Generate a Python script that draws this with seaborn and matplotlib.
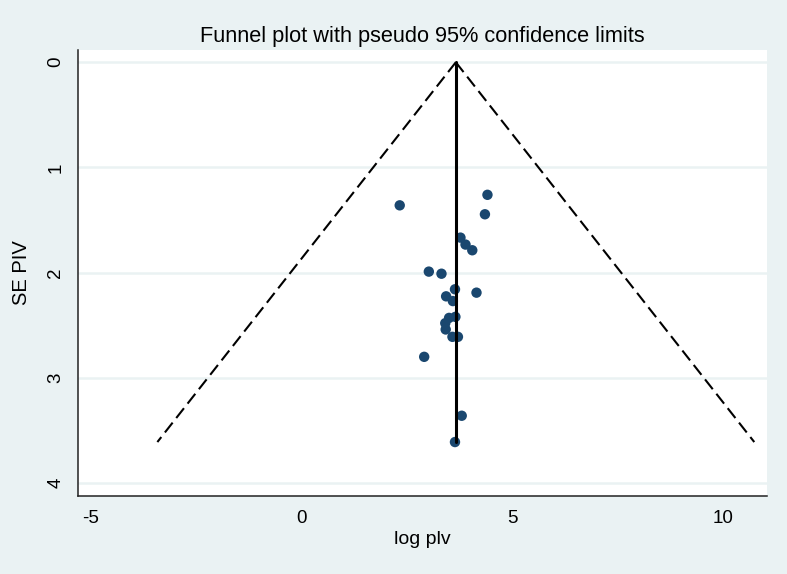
import numpy as np
import pandas as pd
import matplotlib
matplotlib.use("Agg")
import matplotlib.pyplot as plt
import seaborn as sns

# Study values
log_plv = [2.33, 4.41, 4.35, 3.77, 3.89, 4.05, 3.02, 3.32, 3.64, 4.15, 3.43,
           3.59, 3.50, 3.65, 3.41, 3.42, 3.58, 3.71, 2.91, 3.80, 3.64]
se_piv = [1.36, 1.26, 1.445, 1.667, 1.733, 1.787, 1.99, 2.01, 2.158, 2.19, 2.225,
          2.27, 2.43, 2.42, 2.48, 2.54, 2.61, 2.61, 2.80, 3.36, 3.61]
pooled = 3.66
se_max = 3.61
x_ticks = [-5, 0, 5, 10]
y_ticks = [0, 1, 2, 3, 4]

df = pd.DataFrame({"log plv": log_plv, "SE PIV": se_piv})
funnel_left = pd.DataFrame({"x": [pooled, pooled - 1.96 * se_max], "y": [0, se_max]})
funnel_right = pd.DataFrame({"x": [pooled, pooled + 1.96 * se_max], "y": [0, se_max]})
center = pd.DataFrame({"x": [pooled, pooled], "y": [0, se_max]})

sns.set_style("white")
plt.rcParams["font.family"] = ["Liberation Sans", "DejaVu Sans"]
plt.rcParams["text.color"] = "black"
plt.rcParams["axes.labelcolor"] = "black"
plt.rcParams["xtick.color"] = "black"
plt.rcParams["ytick.color"] = "black"

bg = "#EAF2F3"
fig = plt.figure(figsize=(7.87, 5.74), dpi=100, facecolor=bg)
ax = fig.add_axes([0.0995, 0.1364, 0.8747, 0.7766])
ax.set_facecolor("white")

for yv in y_ticks:
    ax.axhline(yv, color=bg, lw=1.8, zorder=0)

dash = (0, (6, 2.8))
sns.lineplot(data=funnel_left, x="x", y="y", sort=False, estimator=None, ax=ax,
             color="black", lw=1.5, linestyle=dash, zorder=2)
sns.lineplot(data=funnel_right, x="x", y="y", sort=False, estimator=None, ax=ax,
             color="black", lw=1.5, linestyle=dash, zorder=2)
sns.scatterplot(data=df, x="log plv", y="SE PIV", ax=ax, color="#1A476F",
                s=56, edgecolor="none", zorder=3)
sns.lineplot(data=center, x="x", y="y", sort=False, estimator=None, ax=ax,
             color="black", lw=2.2, zorder=4)

ax.set_xlim(-5.29, 11.03)
ax.set_ylim(4.12, -0.117)
ax.set_xticks(x_ticks)
ax.set_yticks(y_ticks)
ax.set_xticklabels([str(v) for v in x_ticks], fontsize=13.5)
ax.set_yticklabels([str(v) for v in y_ticks], fontsize=13.5, rotation=90, va="center")
ax.tick_params(axis="both", direction="out", length=5, width=1, color="#222222", pad=5)
ax.set_xlabel("log plv", fontsize=14, labelpad=3)
ax.set_ylabel("SE PIV", fontsize=14.5, labelpad=12)
ax.set_title("Funnel plot with pseudo 95% confidence limits", fontsize=15.7, pad=6)

for side in ["top", "right"]:
    ax.spines[side].set_visible(False)
for side in ["left", "bottom"]:
    ax.spines[side].set_color("#222222")
    ax.spines[side].set_linewidth(1.1)

fig.savefig("out.png", dpi=100, facecolor=bg)
